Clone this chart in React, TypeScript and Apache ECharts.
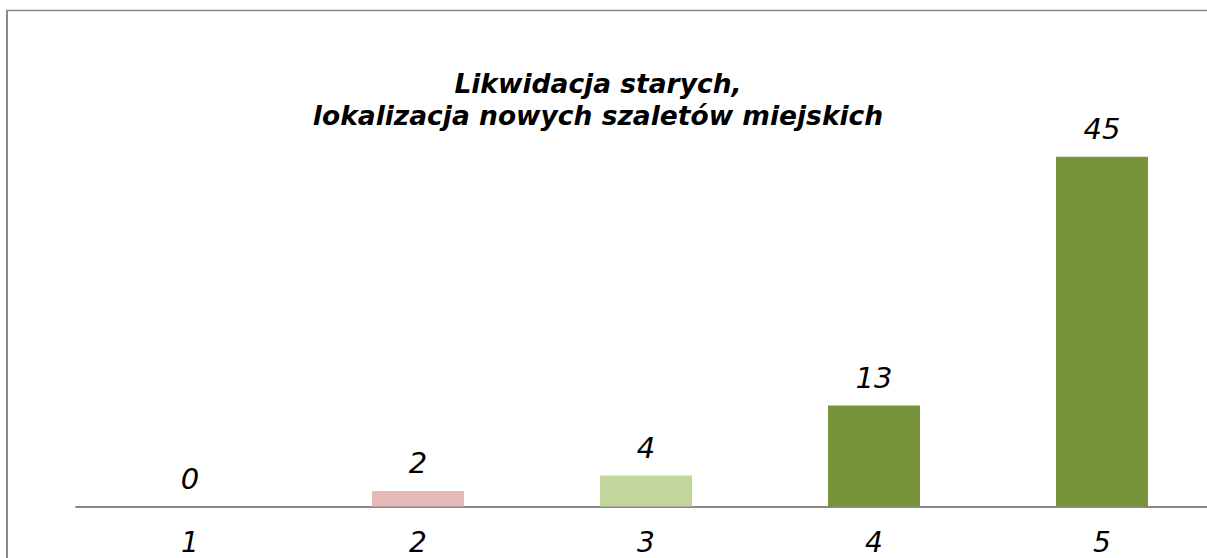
import React, { useEffect, useRef } from "react";
import * as echarts from "echarts";

const categories = ["1", "2", "3", "4", "5"];
const values = [0, 2, 4, 13, 45];
const barColors = ["#77933C", "#E6B9B8", "#C3D69B", "#77933C", "#77933C"];
const titleText = "Likwidacja starych,\nlokalizacja nowych szaletów miejskich";

export default function App() {
  const ref = useRef<HTMLDivElement>(null);
  useEffect(() => {
    if (!ref.current) return;
    const chart = echarts.init(ref.current, null, { renderer: "svg" });
    const font = "'DejaVu Sans', Verdana, sans-serif";
    chart.setOption({
      animation: false,
      backgroundColor: "#ffffff",
      title: {
        text: titleText,
        left: 598,
        top: 67,
        padding: 0,
        textAlign: "center",
        textStyle: {
          fontFamily: font,
          fontSize: 26.5,
          fontWeight: "bold",
          fontStyle: "italic",
          color: "#000",
          lineHeight: 32,
        },
      },
      grid: { left: 76, right: 24, top: 118, bottom: 93.5 },
      xAxis: {
        type: "category",
        data: categories,
        axisTick: { show: false },
        axisLine: { lineStyle: { color: "#898989", width: 2 } },
        axisLabel: {
          margin: 22,
          fontFamily: font,
          fontSize: 28,
          fontStyle: "italic",
          color: "#000",
        },
      },
      yAxis: {
        type: "value",
        min: 0,
        max: 50,
        show: false,
        splitLine: { show: false },
      },
      series: [
        {
          type: "bar",
          barWidth: 92,
          data: values.map((v, i) => ({ value: v, itemStyle: { color: barColors[i] } })),
          label: {
            show: true,
            position: "top",
            distance: 13,
            fontFamily: font,
            fontSize: 29,
            fontStyle: "italic",
            color: "#000",
          },
        },
      ],
      graphic: [
        {
          type: "line",
          shape: { x1: 7, y1: 10, x2: 7, y2: 600 },
          style: { stroke: "#888", lineWidth: 2 },
        },
        {
          type: "line",
          shape: { x1: 6, y1: 10.5, x2: 1240, y2: 10.5 },
          style: { stroke: "#888", lineWidth: 1.5 },
        },
      ],
    });
    return () => chart.dispose();
  }, []);
  return (
    <div style={{ position: "fixed", left: 0, top: 0, width: 1207, height: 558, overflow: "hidden", background: "#fff" }}>
      <div ref={ref} style={{ position: "absolute", left: 0, top: 0, width: 1240, height: 600 }} />
    </div>
  );
}
